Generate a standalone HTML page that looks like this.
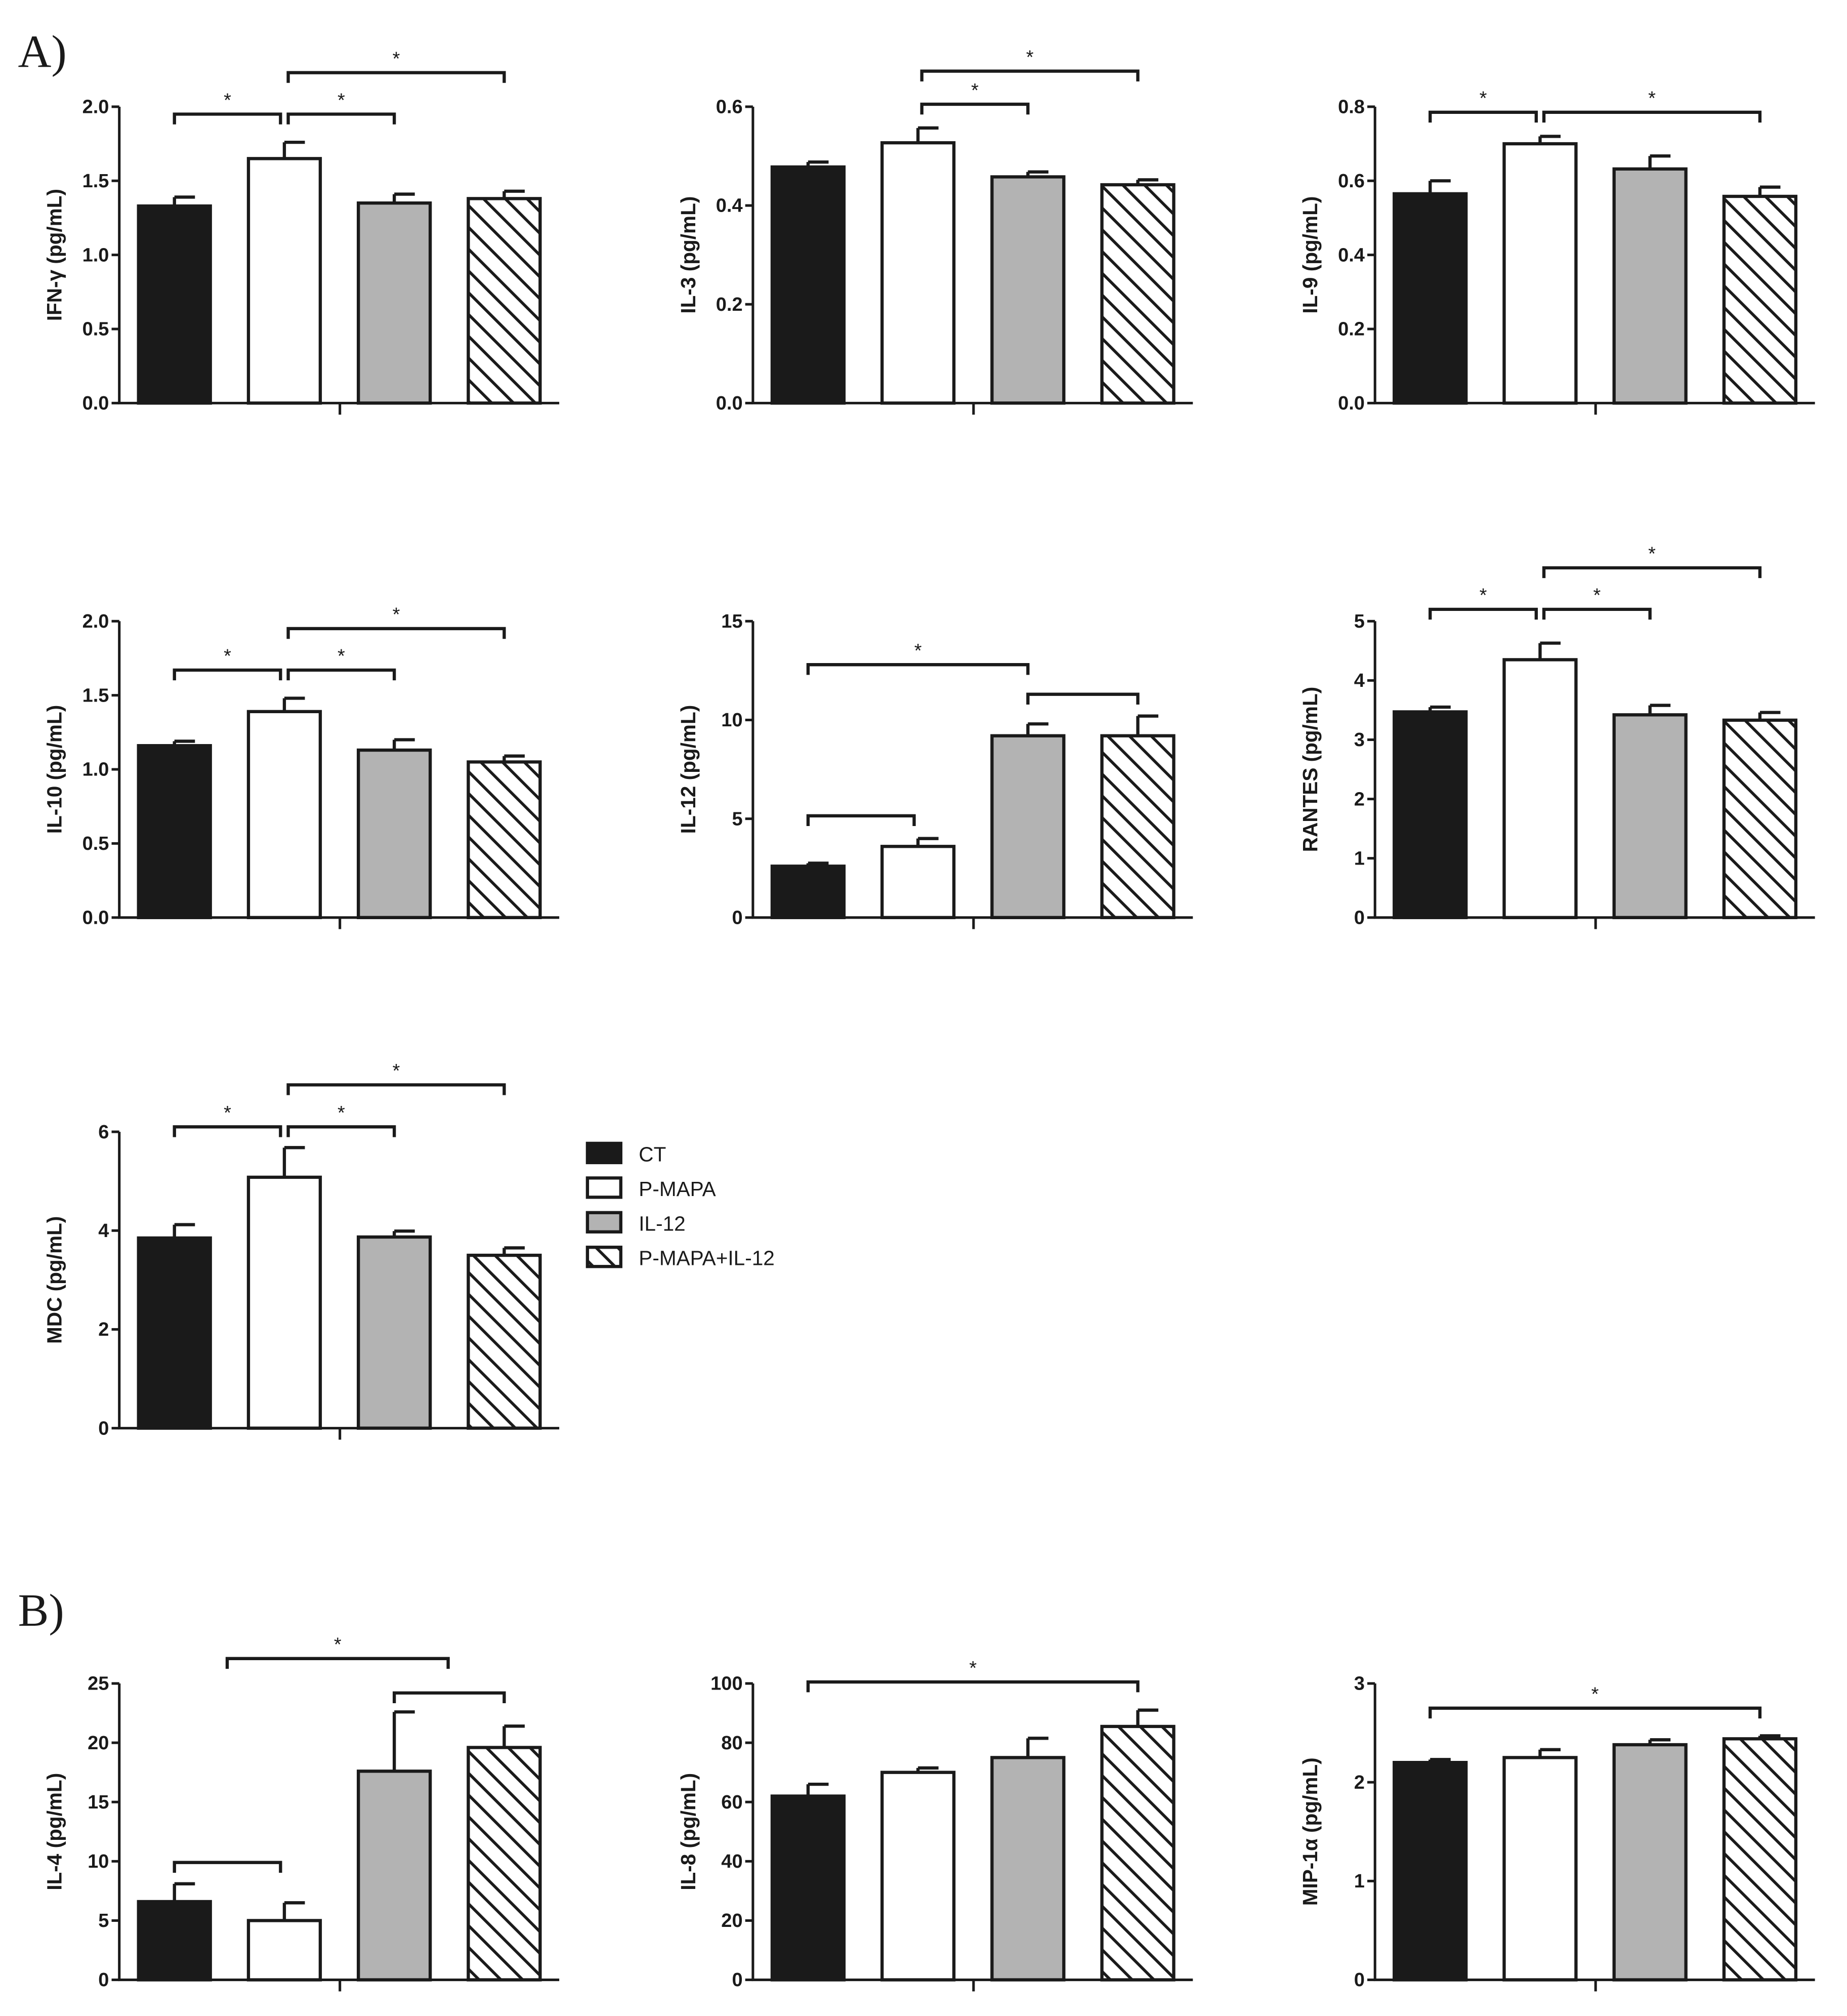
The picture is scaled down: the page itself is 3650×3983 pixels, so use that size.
<!DOCTYPE html>
<html><head><meta charset="utf-8"><style>
html,body{margin:0;padding:0;background:#fff}
svg{display:block}
text{font-family:"Liberation Sans",Arial,sans-serif}
</style></head><body>
<svg id="fig" xmlns="http://www.w3.org/2000/svg" width="3650" height="3983" viewBox="0 0 1440 1571">
<defs>
<pattern id="hatch" patternUnits="userSpaceOnUse" width="12" height="12" patternTransform="rotate(-45)">
<rect width="12" height="12" fill="#fff"/>
<line x1="0" y1="0" x2="0" y2="12" stroke="#1a1a1a" stroke-width="4.5"/>
</pattern>
</defs>
<text x="14" y="52" font-size="36" style="font-family:'Liberation Serif',serif" fill="#1a1a1a">A)</text>
<text x="14" y="1267" font-size="36" style="font-family:'Liberation Serif',serif" fill="#1a1a1a">B)</text>
<g>
<rect x="458" y="891" width="26" height="15" fill="#1a1a1a" stroke="#1a1a1a" stroke-width="2.5"/>
<text x="498" y="905" font-size="16" fill="#1a1a1a">CT</text>
<rect x="458" y="918" width="26" height="15" fill="#fff" stroke="#1a1a1a" stroke-width="2.5"/>
<text x="498" y="932" font-size="16" fill="#1a1a1a">P-MAPA</text>
<rect x="458" y="945" width="26" height="15" fill="#b3b3b3" stroke="#1a1a1a" stroke-width="2.5"/>
<text x="498" y="959" font-size="16" fill="#1a1a1a">IL-12</text>
<rect x="458" y="972" width="26" height="15" fill="url(#hatch)" stroke="#1a1a1a" stroke-width="2.5"/>
<text x="498" y="986" font-size="16" fill="#1a1a1a">P-MAPA+IL-12</text>
</g>
</svg>
<script>
const panelNames = ["IFN-γ","IL-3","IL-9","IL-10","IL-12","RANTES","MDC","IL-4","IL-8","MIP-1α"];
const panelMax = [2.0,0.6,0.8,2.0,15,5,6,25,100,3];
const panelTicks = [
 ["0.0","0.5","1.0","1.5","2.0"],["0.0","0.2","0.4","0.6"],["0.0","0.2","0.4","0.6","0.8"],
 ["0.0","0.5","1.0","1.5","2.0"],["0","5","10","15"],["0","1","2","3","4","5"],["0","2","4","6"],
 ["0","5","10","15","20","25"],["0","20","40","60","80","100"],["0","1","2","3"]];
const valCT    = [1.33,0.478,0.565,1.16,2.6,3.47,3.85,6.6,62,2.2];
const valPMAPA = [1.65,0.527,0.70,1.39,3.6,4.35,5.08,5.0,70,2.25];
const valIL12  = [1.35,0.458,0.632,1.13,9.2,3.42,3.87,17.6,75,2.38];
const valCombo = [1.38,0.442,0.558,1.05,9.2,3.33,3.5,19.6,85.5,2.44];
const errCT    = [0.06,0.01,0.035,0.03,0.15,0.08,0.27,1.5,4,0.03];
const errPMAPA = [0.11,0.03,0.02,0.09,0.4,0.28,0.6,1.5,1.5,0.08];
const errIL12  = [0.06,0.01,0.035,0.07,0.6,0.16,0.12,5.0,6.5,0.05];
const errCombo = [0.05,0.01,0.025,0.04,1.0,0.13,0.15,1.8,5.5,0.03];
// brackets: [panel, fromGroup, toGroup, value-level (data units), star]
const brackets = [
 [0,0,1,1.95,1],[0,1,2,1.95,1],[0,1,3,2.23,1],
 [1,1,2,0.605,1],[1,1,3,0.672,1],
 [2,0,1,0.785,1],[2,1,3,0.785,1],
 [3,0,1,1.67,1],[3,1,2,1.67,1],[3,1,3,1.95,1],
 [4,0,1,5.15,0],[4,2,3,11.3,0],[4,0,2,12.8,1],
 [5,0,1,5.2,1],[5,1,2,5.2,1],[5,1,3,5.9,1],
 [6,0,1,6.1,1],[6,1,2,6.1,1],[6,1,3,6.95,1],
 [7,0,1,9.9,0],[7,0.48,2.49,27.1,1],[7,2,3,24.2,0],
 [8,0,3,100.5,1],
 [9,0,3,2.75,1]];

const NS="http://www.w3.org/2000/svg";
const svg=document.getElementById('fig');
const colX=[93,587,1072], rowTop=[83,484,882,1312], rowH=231;
const layout=[[0,0],[1,0],[2,0],[0,1],[1,1],[2,1],[0,2],[0,3],[1,3],[2,3]];
const fills=["#1a1a1a","#fff","#b3b3b3","url(#hatch)"];
const groupKeys=["ct","pmapa","il12","combo"];
function mk(tag,attrs,parent){const e=document.createElementNS(NS,tag);for(const k in attrs)e.setAttribute(k,attrs[k]);(parent||svg).appendChild(e);return e;}

for(let p=0;p<panelNames.length;p++){
  const ax=colX[layout[p][0]], top=rowTop[layout[p][1]], bot=top+rowH;
  const yS=v=>bot-(v/panelMax[p])*rowH;
  const xC=i=>ax+14+29+i*85.7;
  const g=mk('g',{});
  
  
  const vals=[valCT[p],valPMAPA[p],valIL12[p],valCombo[p]];
  const errs=[errCT[p],errPMAPA[p],errIL12[p],errCombo[p]];
  for(let i=0;i<4;i++){
    const yt=yS(vals[i]+errs[i]), yv=yS(vals[i]);
    const el=mk('path',{d:`M${xC(i)} ${yv} V${yt} M${xC(i)} ${yt} h16`,stroke:'#1a1a1a','stroke-width':2.5,fill:'none'},g);
    
    
    const b=mk('rect',{x:xC(i)-28,y:yv,width:56,height:bot-yv,fill:fills[i],stroke:'#1a1a1a','stroke-width':2.5},g);
    
    
  }
  const axl=mk('path',{d:`M${ax} ${top} V${bot} H${ax+343} M${ax+172} ${bot} v9`,stroke:'#1a1a1a','stroke-width':2,fill:'none'},g);
  
  
  const tk=panelTicks[p];
  for(let t=0;t<tk.length;t++){
    const v=panelMax[p]*t/(tk.length-1), y=yS(v);
    const l=mk('line',{x1:ax-6,x2:ax,y1:y,y2:y,stroke:'#1a1a1a','stroke-width':2},g);
    
    
    const tx=mk('text',{x:ax-8,y:y+5,'font-size':15,'font-weight':'bold','text-anchor':'end',fill:'#1a1a1a'},g);
    tx.textContent=tk[t];
    
    
  }
  const cy=(top+bot)/2, lx=ax-45;
  const yl=mk('text',{x:lx,y:cy,'font-size':16,'font-weight':'bold','text-anchor':'middle',fill:'#1a1a1a',transform:`rotate(-90 ${lx} ${cy})`},g);
  yl.textContent=panelNames[p]+' (pg/mL)';
  
  
}
for(const br of brackets){
  const p=br[0], ax=colX[layout[p][0]], top=rowTop[layout[p][1]], bot=top+rowH;
  const yS=v=>bot-(v/panelMax[p])*rowH;
  const xC=i=>ax+14+29+i*85.7;
  const x1=xC(br[1])+(br[1]===1?3:0), x2=xC(br[2])-(br[2]===1?3:0), y=yS(br[3]);
  const b=mk('path',{d:`M${x1} ${y+8} V${y} H${x2} V${y+8}`,stroke:'#1a1a1a','stroke-width':2.5,fill:'none'});
  
  
  if(br[4]){
    const s=mk('text',{x:(x1+x2)/2,y:y-6,'font-size':15,'text-anchor':'middle',fill:'#1a1a1a'});
    s.textContent='*';
    
    
  }
}
</script>
</body></html>
